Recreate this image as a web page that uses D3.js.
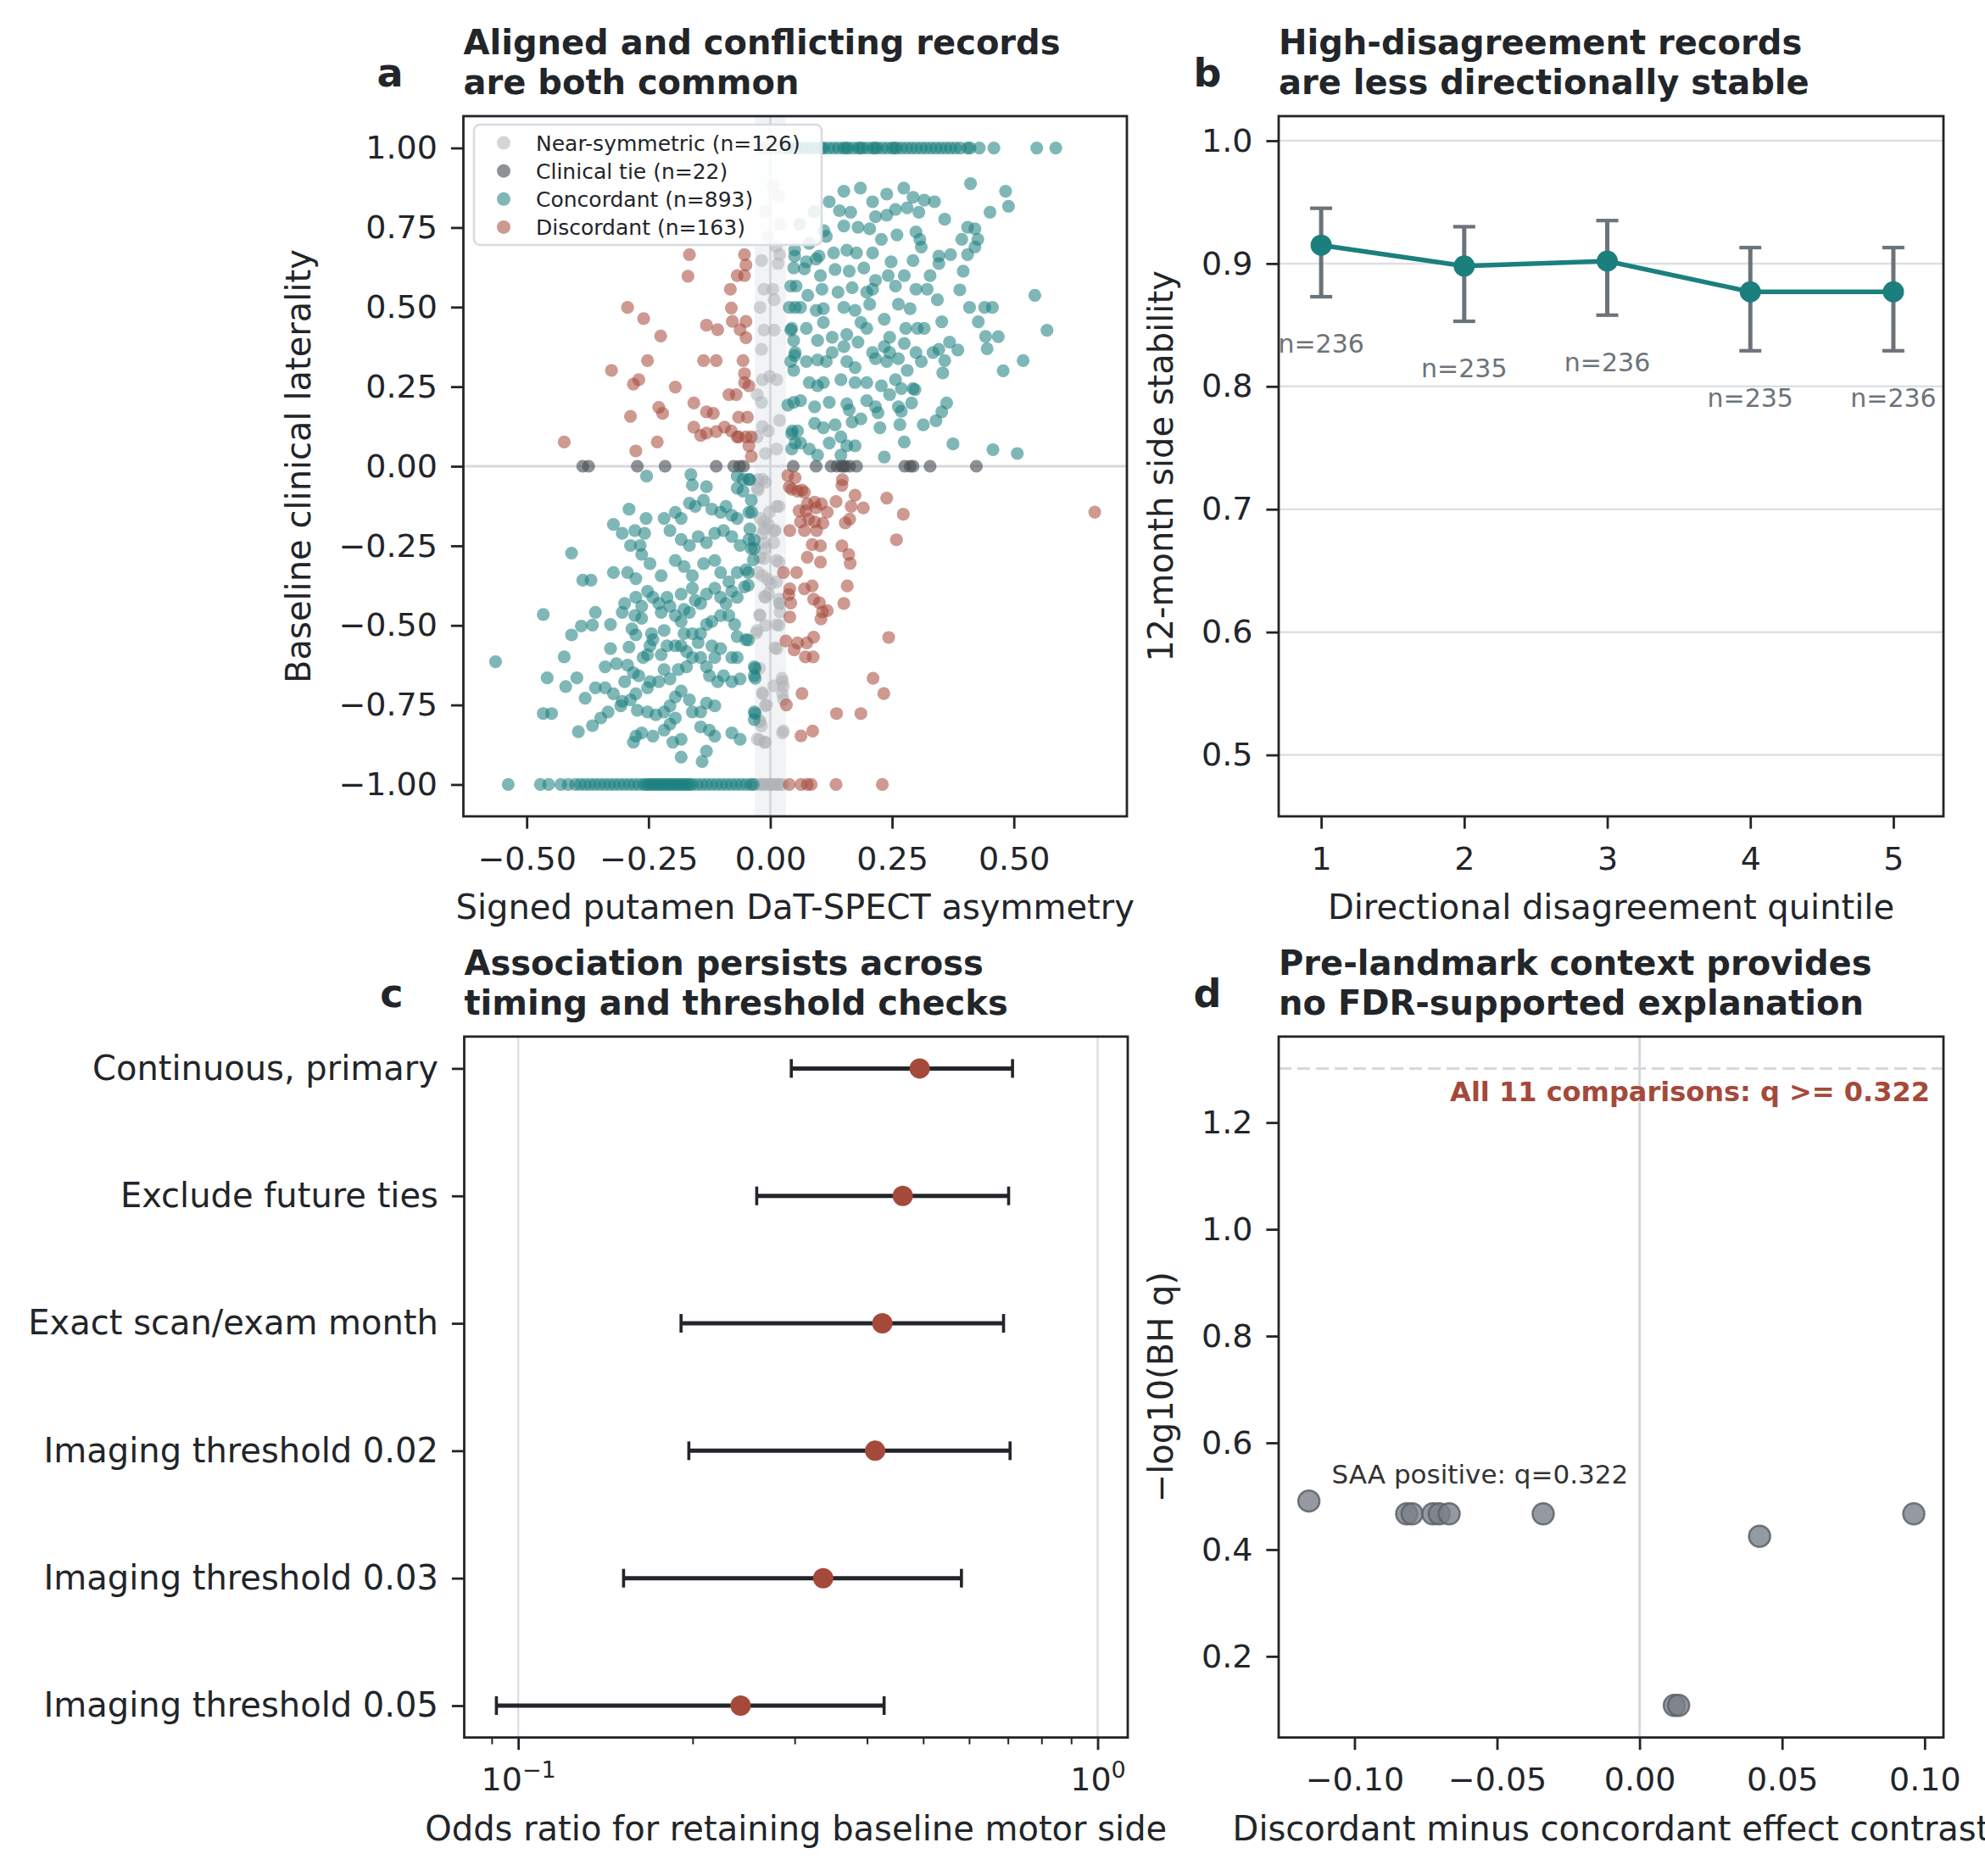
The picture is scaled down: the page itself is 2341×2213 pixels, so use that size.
<!DOCTYPE html>
<html>
<head>
<meta charset="utf-8">
<script src="https://cdn.jsdelivr.net/npm/d3@7"></script>
<style>
  body { margin: 0; background: #fff; }
  svg { display: block; }
</style>
</head>
<body>
<div id="chart"></div>
<script>
// ---- panel a: scatter, values are [asymmetry, laterality] ----
const nearSymmetric = [
  [-0.025, -0.042], [-0.025, -0.075], [0.018, -0.126], [-0.002, -0.144], [-0.013, -0.175], [0.010, -0.202],
  [-0.013, -0.197], [0.007, -0.240], [-0.013, -0.241], [-0.013, -0.290], [0.018, -0.301], [-0.025, -0.334],
  [-0.005, -0.356], [0.001, -0.370], [-0.012, -0.409], [0.018, -0.418], [0.020, -0.431], [0.020, -0.458],
  [-0.022, -0.467], [-0.010, -0.500], [0.018, -0.500], [-0.029, -0.524], [0.010, -0.570], [-0.022, -0.635],
  [0.024, -0.666], [0.007, -0.690], [0.027, -0.692], [-0.016, -0.712], [0.027, -0.732], [-0.008, -0.750],
  [-0.022, -0.803], [-0.018, -0.816], [0.027, -0.832], [-0.022, -0.860], [-0.012, -0.867],
  [-0.018, 0.646], [0.019, 0.665], [0.016, 0.637], [-0.013, 0.556], [0.005, 0.556], [0.008, 0.523],
  [-0.021, 0.499], [-0.013, 0.428], [0.008, 0.428], [-0.018, 0.367], [-0.016, 0.272], [-0.001, 0.282],
  [0.013, 0.272], [-0.027, 0.225], [-0.018, 0.201], [0.019, 0.144], [-0.016, 0.125], [-0.027, 0.092],
  [-0.004, 0.111], [0.013, 0.054], [-0.010, 0.040], [-0.016, -0.041], [-0.027, -0.069], [-0.010, -0.050],
  [0.013, -0.126], [-0.021, -0.164], [-0.004, -0.183], [0.008, -0.202], [-0.016, -0.211], [-0.010, -0.258],
  [0.013, -0.296], [-0.021, -0.287], [-0.016, -0.344], [0.013, -0.363], [-0.004, -0.400],
  [-0.021, -0.469], [-0.027, -0.516], [0.019, -0.431], [0.013, -0.573], [0.025, -0.677], [0.025, -0.715],
  [-0.016, -0.715], [-0.010, -0.753], [-0.021, -0.800], [0.025, -0.838], [-0.027, -0.857], [-0.010, -0.867],
  [0.013, -0.498], [-0.010, -0.412],
  [0.005, 0.88], [0.017, 0.85], [-0.010, 0.80], [0.020, 0.76], [-0.005, 0.72], [0.012, 0.69]
]
const nearSymmetricRowLow = [-0.028, -0.020, -0.016, -0.012, -0.005, 0.001, 0.003, 0.010, 0.016, 0.018, 0.025]
const nearSymmetricRowHigh = [-0.020, -0.010, 0.000, 0.010, 0.020, 0.028]

const clinicalTieX = [-0.385, -0.373, -0.273, -0.216, -0.111, -0.075, -0.063, -0.055, 0.047, 0.094, 0.125,
  0.137, 0.146, 0.150, 0.154, 0.163, 0.177, 0.276, 0.287, 0.293, 0.328, 0.423]

const concordant = [
  // lower-left cloud
  [-0.466, -0.466], [-0.564, -0.614], [-0.458, -0.665], [-0.423, -0.599], [-0.397, -0.665], [-0.420, -0.692],
  [-0.408, -0.530], [-0.388, -0.502], [-0.365, -0.499], [-0.359, -0.459], [-0.380, -0.729], [-0.466, -0.777],
  [-0.449, -0.777], [-0.394, -0.834], [-0.365, -0.815], [-0.348, -0.791], [-0.333, -0.772], [-0.359, -0.696],
  [-0.339, -0.696], [-0.328, -0.573], [-0.328, -0.497], [-0.322, -0.715], [-0.307, -0.753], [-0.304, -0.739],
  [-0.339, -0.630], [-0.316, -0.620], [-0.290, -0.568], [-0.304, -0.459], [-0.284, -0.511], [-0.278, -0.469],
  [-0.276, -0.530], [-0.264, -0.478], [-0.293, -0.625], [-0.281, -0.649], [-0.299, -0.677], [-0.270, -0.658],
  [-0.261, -0.601], [-0.252, -0.592], [-0.244, -0.526], [-0.247, -0.564], [-0.241, -0.545], [-0.218, -0.516],
  [-0.224, -0.459], [-0.229, -0.431], [-0.241, -0.412], [-0.212, -0.412], [-0.195, -0.469], [-0.183, -0.488],
  [-0.166, -0.459], [-0.177, -0.450], [-0.154, -0.421], [-0.131, -0.402], [-0.114, -0.383], [-0.102, -0.412],
  [-0.091, -0.431], [-0.079, -0.393], [-0.068, -0.412], [-0.053, -0.379], [-0.287, -0.734], [-0.273, -0.767],
  [-0.252, -0.772], [-0.235, -0.781], [-0.218, -0.772], [-0.206, -0.753], [-0.195, -0.725], [-0.183, -0.706],
  [-0.166, -0.734], [-0.160, -0.772], [-0.143, -0.772], [-0.131, -0.744], [-0.114, -0.753], [-0.206, -0.668],
  [-0.218, -0.639], [-0.229, -0.677], [-0.247, -0.677], [-0.252, -0.696], [-0.276, -0.715], [-0.189, -0.639],
  [-0.172, -0.630], [-0.160, -0.601], [-0.143, -0.601], [-0.131, -0.630], [-0.125, -0.658], [-0.108, -0.677],
  [-0.096, -0.658], [-0.079, -0.677], [-0.062, -0.668], [-0.079, -0.601], [-0.068, -0.601], [-0.114, -0.601],
  [-0.102, -0.573], [-0.120, -0.564], [-0.148, -0.554], [-0.143, -0.526], [-0.160, -0.526], [-0.177, -0.526],
  [-0.195, -0.564], [-0.212, -0.564], [-0.224, -0.592], [-0.183, -0.564], [-0.172, -0.582], [-0.131, -0.497],
  [-0.120, -0.488], [-0.102, -0.469], [-0.085, -0.469], [-0.073, -0.497], [-0.068, -0.535], [-0.050, -0.545],
  [-0.033, -0.630], [-0.033, -0.658], [-0.033, -0.772], [-0.033, -0.796], [-0.276, -0.848], [-0.281, -0.867],
  [-0.264, -0.838], [-0.241, -0.848], [-0.218, -0.829], [-0.206, -0.810], [-0.200, -0.867], [-0.183, -0.858],
  [-0.195, -0.791], [-0.143, -0.819], [-0.125, -0.829], [-0.114, -0.848], [-0.079, -0.838], [-0.062, -0.858],
  [-0.131, -0.895], [-0.183, -0.914], [-0.140, -0.928],
  [-0.276, -0.412], [-0.252, -0.393], [-0.299, -0.431], [-0.264, -0.440], [-0.183, -0.402], [-0.160, -0.383],
  [-0.143, -0.431], [-0.206, -0.440],
  [-0.254, -0.031], [-0.163, -0.026], [-0.160, -0.059], [-0.131, -0.064], [-0.068, -0.031], [-0.056, -0.041],
  [-0.044, -0.041], [-0.068, -0.069], [-0.056, -0.078], [-0.290, -0.135], [-0.322, -0.183], [-0.304, -0.211],
  [-0.278, -0.202], [-0.255, -0.164], [-0.258, -0.211], [-0.267, -0.249], [-0.287, -0.249], [-0.264, -0.277],
  [-0.218, -0.164], [-0.195, -0.145], [-0.183, -0.164], [-0.166, -0.116], [-0.154, -0.126], [-0.137, -0.107],
  [-0.120, -0.135], [-0.102, -0.145], [-0.091, -0.126], [-0.079, -0.154], [-0.068, -0.164], [-0.044, -0.145],
  [-0.039, -0.107], [-0.206, -0.202], [-0.183, -0.230], [-0.166, -0.249], [-0.148, -0.221], [-0.131, -0.240],
  [-0.114, -0.211], [-0.096, -0.202], [-0.079, -0.221], [-0.062, -0.249], [-0.044, -0.230], [-0.033, -0.258],
  [-0.408, -0.273], [-0.385, -0.358], [-0.368, -0.358], [-0.322, -0.334], [-0.293, -0.334], [-0.276, -0.353],
  [-0.247, -0.306], [-0.224, -0.344], [-0.195, -0.296], [-0.177, -0.315], [-0.160, -0.344], [-0.137, -0.306],
  [-0.114, -0.296], [-0.102, -0.334], [-0.085, -0.363], [-0.068, -0.334], [-0.050, -0.325],
  [-0.042, -0.042], [-0.038, -0.144], [-0.042, -0.197], [-0.033, -0.232], [-0.039, -0.259], [-0.035, -0.294],
  [-0.045, -0.334], [-0.045, -0.374], [-0.045, -0.546], [-0.031, -0.635], [-0.031, -0.666], [-0.031, -0.777],
  // upper-right cloud
  [0.411, 0.888], [0.483, 0.864], [0.489, 0.817], [0.451, 0.798], [0.358, 0.776], [0.405, 0.751],
  [0.420, 0.746], [0.426, 0.713], [0.393, 0.713], [0.420, 0.689], [0.405, 0.665], [0.370, 0.665],
  [0.346, 0.660], [0.396, 0.613], [0.389, 0.554], [0.409, 0.499], [0.440, 0.499], [0.456, 0.499],
  [0.427, 0.454], [0.442, 0.408], [0.468, 0.407], [0.445, 0.369], [0.543, 0.537], [0.568, 0.427],
  [0.519, 0.332], [0.478, 0.300], [0.375, 0.070], [0.457, 0.052], [0.507, 0.040], [0.352, 0.454],
  [0.368, 0.390], [0.385, 0.365], [0.358, 0.332], [0.354, 0.293], [0.362, 0.199], [0.352, 0.171],
  [0.340, 0.143], [0.314, 0.130], [0.297, 0.241], [0.290, 0.199], [0.269, 0.173], [0.266, 0.131],
  [0.275, 0.076], [0.234, 0.029], [0.225, 0.121], [0.151, 0.864], [0.185, 0.874], [0.239, 0.855],
  [0.274, 0.874], [0.293, 0.845], [0.316, 0.836], [0.337, 0.831], [0.121, 0.831], [0.142, 0.803],
  [0.165, 0.798], [0.210, 0.831], [0.216, 0.784], [0.239, 0.789], [0.257, 0.807], [0.281, 0.812],
  [0.305, 0.798], [0.151, 0.755], [0.180, 0.751], [0.204, 0.746], [0.228, 0.713], [0.260, 0.727],
  [0.299, 0.736], [0.307, 0.713], [0.310, 0.689], [0.115, 0.722], [0.130, 0.670], [0.157, 0.679],
  [0.177, 0.670], [0.210, 0.670], [0.248, 0.642], [0.293, 0.646], [0.346, 0.637], [0.050, 0.660],
  [0.074, 0.642], [0.094, 0.651], [0.103, 0.599], [0.133, 0.618], [0.162, 0.613], [0.192, 0.623],
  [0.216, 0.584], [0.242, 0.599], [0.275, 0.599], [0.328, 0.599], [0.053, 0.566], [0.077, 0.537],
  [0.106, 0.556], [0.109, 0.495], [0.139, 0.547], [0.168, 0.561], [0.198, 0.547], [0.210, 0.556],
  [0.257, 0.566], [0.299, 0.556], [0.322, 0.556], [0.343, 0.523], [0.062, 0.499], [0.094, 0.490],
  [0.151, 0.499], [0.174, 0.490], [0.204, 0.509], [0.263, 0.509], [0.287, 0.495], [0.044, 0.433],
  [0.074, 0.433], [0.109, 0.452], [0.127, 0.405], [0.157, 0.414], [0.186, 0.452], [0.198, 0.433],
  [0.234, 0.462], [0.245, 0.405], [0.278, 0.433], [0.302, 0.433], [0.316, 0.433], [0.097, 0.395],
  [0.127, 0.357], [0.151, 0.376], [0.180, 0.390], [0.210, 0.357], [0.234, 0.376], [0.245, 0.357],
  [0.275, 0.386], [0.299, 0.357], [0.334, 0.357], [0.346, 0.367], [0.050, 0.348], [0.074, 0.329],
  [0.097, 0.334], [0.115, 0.329], [0.157, 0.329], [0.174, 0.310], [0.216, 0.338], [0.239, 0.329],
  [0.263, 0.338], [0.281, 0.301], [0.310, 0.329], [0.080, 0.263], [0.097, 0.253], [0.109, 0.263],
  [0.145, 0.272], [0.174, 0.263], [0.198, 0.263], [0.228, 0.253], [0.257, 0.272], [0.269, 0.244],
  [0.293, 0.244], [0.062, 0.206], [0.091, 0.187], [0.121, 0.201], [0.157, 0.196], [0.162, 0.177],
  [0.198, 0.206], [0.216, 0.187], [0.245, 0.225], [0.263, 0.187], [0.091, 0.135], [0.109, 0.121],
  [0.133, 0.130], [0.168, 0.139], [0.186, 0.149], [0.221, 0.168], [0.044, 0.102], [0.062, 0.073],
  [0.080, 0.054], [0.097, 0.035], [0.121, 0.073], [0.145, 0.092], [0.157, 0.064], [0.174, 0.064],
  [0.145, 0.035], [0.044, 0.054], [0.056, 0.111],
  [0.048, 0.623], [0.042, 0.566], [0.039, 0.499], [0.051, 0.499], [0.042, 0.428], [0.048, 0.395],
  [0.051, 0.357], [0.042, 0.329], [0.048, 0.301], [0.036, 0.192], [0.048, 0.201], [0.045, 0.111],
  [0.051, 0.073], [0.050, 0.680], [0.080, 0.700], [0.100, 0.660], [0.070, 0.620], [0.110, 0.740],
  [0.090, 0.800], [0.060, 0.760]
]
const concordantRowLow = [-0.538, -0.472, -0.455, -0.430, -0.415, -0.400, -0.390, -0.380, -0.370, -0.360,
  -0.350, -0.340, -0.330, -0.320, -0.310, -0.300, -0.290, -0.280, -0.270, -0.260, -0.255, -0.250, -0.245,
  -0.240, -0.235, -0.230, -0.225, -0.220, -0.215, -0.210, -0.205, -0.200, -0.195, -0.190, -0.185, -0.180,
  -0.175, -0.170, -0.165, -0.160, -0.150, -0.140, -0.130, -0.120, -0.110, -0.100, -0.090, -0.080, -0.070,
  -0.060, -0.050, -0.040, -0.035]
const concordantRowHigh = [0.035, 0.045, 0.055, 0.065, 0.075, 0.085, 0.095, 0.105, 0.110, 0.120, 0.130,
  0.140, 0.150, 0.155, 0.160, 0.170, 0.180, 0.185, 0.190, 0.200, 0.210, 0.215, 0.220, 0.230, 0.240, 0.250,
  0.255, 0.260, 0.270, 0.280, 0.290, 0.300, 0.310, 0.320, 0.330, 0.340, 0.350, 0.360, 0.370, 0.380, 0.390,
  0.405, 0.410, 0.429, 0.459, 0.547, 0.586]

const discordant = [
  [0.036, -0.029], [0.051, -0.036], [0.039, -0.065], [0.044, -0.072], [0.065, -0.075], [0.070, -0.082],
  [0.056, -0.078], [0.148, -0.042], [0.147, -0.060], [0.174, -0.091], [0.239, -0.100], [0.135, -0.111],
  [0.166, -0.126], [0.191, -0.131], [0.273, -0.151], [0.666, -0.144], [0.076, -0.118], [0.091, -0.113],
  [0.105, -0.118], [0.059, -0.140], [0.073, -0.140], [0.094, -0.131], [0.117, -0.144], [0.079, -0.166],
  [0.091, -0.175], [0.108, -0.179], [0.062, -0.175], [0.163, -0.166], [0.154, -0.178], [0.040, -0.202],
  [0.070, -0.202], [0.095, -0.202], [0.259, -0.231], [0.086, -0.246], [0.103, -0.250], [0.147, -0.250],
  [0.161, -0.277], [0.164, -0.305], [0.076, -0.286], [0.103, -0.301], [0.027, -0.334], [0.054, -0.334],
  [0.158, -0.376], [0.040, -0.385], [0.070, -0.385], [0.086, -0.376], [0.038, -0.403], [0.042, -0.430],
  [0.089, -0.418], [0.101, -0.429], [0.151, -0.431], [0.117, -0.454], [0.107, -0.458], [0.104, -0.480],
  [0.040, -0.474], [0.032, -0.549], [0.056, -0.555], [0.075, -0.555], [0.089, -0.537], [0.049, -0.577],
  [0.072, -0.599], [0.088, -0.599], [0.243, -0.538], [0.211, -0.666], [0.233, -0.714], [0.065, -0.714],
  [0.033, -0.750], [0.136, -0.777], [0.186, -0.777], [0.063, -0.847], [0.087, -0.832],
  [-0.166, 0.665], [-0.169, 0.597], [-0.293, 0.499], [-0.260, 0.464], [-0.225, 0.409], [-0.252, 0.332],
  [-0.326, 0.301], [-0.281, 0.258], [-0.270, 0.272], [-0.195, 0.249], [-0.287, 0.157], [-0.229, 0.185],
  [-0.221, 0.166], [-0.423, 0.076], [-0.276, 0.048], [-0.232, 0.076], [-0.157, 0.199], [-0.131, 0.171],
  [-0.117, 0.166], [-0.157, 0.123], [-0.143, 0.097], [-0.131, 0.104], [-0.111, 0.109], [-0.094, 0.123],
  [-0.080, 0.111], [-0.068, 0.092], [-0.050, 0.092], [-0.039, 0.092], [-0.131, 0.443], [-0.108, 0.429],
  [-0.137, 0.332], [-0.111, 0.332], [-0.082, 0.556], [-0.080, 0.497], [-0.078, 0.455], [-0.085, 0.225],
  [-0.070, 0.225], [-0.065, 0.154], [-0.047, 0.154], [-0.062, 0.429], [-0.050, 0.455], [-0.050, 0.404],
  [-0.056, 0.332], [-0.053, 0.291], [-0.053, 0.263], [-0.044, 0.253], [-0.068, 0.599], [-0.053, 0.599],
  [-0.050, 0.632], [-0.053, 0.665], [-0.065, 0.092], [-0.044, 0.064], [-0.039, 0.031]
]
const discordantRowLow = [0.039, 0.063, 0.076, 0.084, 0.135, 0.230]

const scatterGroups = ['Near-symmetric', 'Clinical tie', 'Concordant', 'Discordant']
const scatterCounts = [126, 22, 893, 163]

// ---- panel b ----
const quintiles = [1, 2, 3, 4, 5]
const stability = [0.915, 0.898, 0.902, 0.877, 0.877]
const stabilityLo = [0.873, 0.853, 0.858, 0.829, 0.829]
const stabilityHi = [0.945, 0.930, 0.935, 0.913, 0.913]
const quintileN = [236, 235, 236, 235, 236]

// ---- panel c ----
const checkLabels = ['Continuous, primary', 'Exclude future ties', 'Exact scan/exam month',
  'Imaging threshold 0.02', 'Imaging threshold 0.03', 'Imaging threshold 0.05']
const oddsRatio = [0.493, 0.461, 0.425, 0.413, 0.336, 0.242]
const oddsLo = [0.296, 0.258, 0.191, 0.197, 0.152, 0.0917]
const oddsHi = [0.713, 0.702, 0.688, 0.706, 0.582, 0.428]

// ---- panel d ----
const contrast = [-0.116, -0.0817, -0.0798, -0.0725, -0.0703, -0.0668, -0.0338, 0.0421, 0.0962, 0.0122, 0.0137]
const negLogQ = [0.491, 0.467, 0.467, 0.467, 0.467, 0.467, 0.467, 0.425, 0.467, 0.108, 0.108]

// ---------------------------------------------------------------
const W = 2341
const H = 2213
const FONT = 'DejaVu Sans, Verdana, sans-serif'
const INK = '#222529'
const TEAL = '#1b7f7e'
const RUST = '#a5493a'
const LIGHT = '#aeb2b7'
const DARK = '#4b4f54'
const GRID = '#dde0e4'
const TICK = 14.6
const TICK_FS = 38

const svg = d3.select('#chart').append('svg')
  .attr('width', W)
  .attr('height', H)
  .style('font-family', FONT)

const boxA = { l: 546.5, r: 1329, t: 137, b: 963 }
const boxB = { l: 1508, r: 2292, t: 137, b: 963 }
const boxC = { l: 547.5, r: 1330, t: 1222.8, b: 2049.6 }
const boxD = { l: 1508, r: 2292, t: 1222.8, b: 2049.6 }

function styleAxis (g, fs) {
  g.attr('font-family', FONT).attr('font-size', fs)
  g.select('.domain').remove()
  g.selectAll('.tick line').attr('stroke', INK).attr('stroke-width', 2.8)
  g.selectAll('.tick text').attr('fill', INK)
}

function frame (box) {
  svg.append('rect')
    .attr('x', box.l).attr('y', box.t)
    .attr('width', box.r - box.l).attr('height', box.b - box.t)
    .attr('fill', 'none').attr('stroke', INK).attr('stroke-width', 2.8)
}

function titles (box, letter, lines, letterX) {
  const base = box.t - 73
  lines.forEach((line, i) => {
    svg.append('text')
      .attr('x', box.l).attr('y', base + i * 47)
      .attr('font-size', 40).attr('font-weight', 'bold').attr('fill', INK)
      .text(line)
  })
  svg.append('text')
    .attr('x', letterX).attr('y', box.t - 35)
    .attr('text-anchor', 'middle')
    .attr('font-size', 46).attr('font-weight', 'bold').attr('fill', INK)
    .text(letter)
}

function xLabel (box, text) {
  svg.append('text')
    .attr('x', (box.l + box.r) / 2).attr('y', box.b + 121)
    .attr('text-anchor', 'middle').attr('font-size', 40).attr('fill', INK)
    .text(text)
}

function yLabel (box, x, text) {
  const cy = (box.t + box.b) / 2
  svg.append('text')
    .attr('transform', `translate(${x}, ${cy}) rotate(-90)`)
    .attr('text-anchor', 'middle').attr('dy', '0.35em')
    .attr('font-size', 40).attr('fill', INK)
    .text(text)
}

function bottomAxis (box, scale, ticks, fmt) {
  const g = svg.append('g')
    .attr('transform', `translate(0, ${box.b})`)
    .call(d3.axisBottom(scale).tickValues(ticks).tickFormat(fmt).tickSize(TICK).tickPadding(21))
  styleAxis(g, TICK_FS)
  return g
}

function leftAxis (box, scale, ticks, fmt, fs) {
  const g = svg.append('g')
    .attr('transform', `translate(${box.l}, 0)`)
    .call(d3.axisLeft(scale).tickValues(ticks).tickFormat(fmt).tickSize(TICK).tickPadding(16))
  styleAxis(g, fs || TICK_FS)
  return g
}

// =============== panel a ===============
{
  const x = d3.scaleLinear().domain([-0.630, 0.732]).range([boxA.l, boxA.r])
  const y = d3.scaleLinear().domain([-1.1, 1.1]).range([boxA.b, boxA.t])
  svg.append('clipPath').attr('id', 'clipA')
    .append('rect').attr('x', boxA.l).attr('y', boxA.t)
    .attr('width', boxA.r - boxA.l).attr('height', boxA.b - boxA.t)
  const g = svg.append('g').attr('clip-path', 'url(#clipA)')

  g.append('rect')
    .attr('x', x(-0.032)).attr('y', boxA.t)
    .attr('width', x(0.032) - x(-0.032)).attr('height', boxA.b - boxA.t)
    .attr('fill', '#e9ecef').attr('opacity', 0.65)
  g.append('line')
    .attr('x1', boxA.l).attr('x2', boxA.r).attr('y1', y(0)).attr('y2', y(0))
    .attr('stroke', '#d5d8dc').attr('stroke-width', 3)
  g.append('line')
    .attr('x1', x(0)).attr('x2', x(0)).attr('y1', boxA.t).attr('y2', boxA.b)
    .attr('stroke', '#d5d8dc').attr('stroke-width', 3)

  const groups = [
    { pts: nearSymmetric.concat(nearSymmetricRowLow.map(v => [v, -1]), nearSymmetricRowHigh.map(v => [v, 1])), color: LIGHT, op: 0.55 },
    { pts: clinicalTieX.map(v => [v, 0]), color: DARK, op: 0.62 },
    { pts: concordant.concat(concordantRowLow.map(v => [v, -1]), concordantRowHigh.map(v => [v, 1])), color: TEAL, op: 0.56 },
    { pts: discordant.concat(discordantRowLow.map(v => [v, -1])), color: RUST, op: 0.56 }
  ]
  groups.forEach(grp => {
    g.append('g').selectAll('circle')
      .data(grp.pts)
      .enter()
      .append('circle')
      .attr('cx', d => x(d[0]))
      .attr('cy', d => y(d[1]))
      .attr('r', 7.6)
      .attr('fill', grp.color)
      .attr('fill-opacity', grp.op)
  })

  // legend
  const lg = svg.append('g')
  lg.append('rect')
    .attr('x', 559).attr('y', 147).attr('width', 410).attr('height', 142).attr('rx', 7)
    .attr('fill', '#fff').attr('fill-opacity', 0.85)
    .attr('stroke', '#d8dce0').attr('stroke-width', 2.5)
  scatterGroups.forEach((name, i) => {
    const cy = 168.6 + i * 33.1
    lg.append('circle').attr('cx', 594).attr('cy', cy).attr('r', 8)
      .attr('fill', groups[i].color).attr('fill-opacity', groups[i].op)
    lg.append('text').attr('x', 632).attr('y', cy).attr('dy', '0.36em')
      .attr('font-size', 25).attr('fill', INK)
      .text(`${name} (n=${scatterCounts[i]})`)
  })

  frame(boxA)
  bottomAxis(boxA, x, [-0.5, -0.25, 0, 0.25, 0.5], d3.format('.2f'))
  leftAxis(boxA, y, [-1, -0.75, -0.5, -0.25, 0, 0.25, 0.5, 0.75, 1], d3.format('.2f'))
  titles(boxA, 'a', ['Aligned and conflicting records', 'are both common'], 460)
  xLabel(boxA, 'Signed putamen DaT-SPECT asymmetry')
  yLabel(boxA, 352, 'Baseline clinical laterality')
}

// =============== panel b ===============
{
  const x = d3.scaleLinear().domain([0.703, 5.35]).range([boxB.l, boxB.r])
  const y = d3.scaleLinear().domain([0.45, 1.02]).range([boxB.b, boxB.t])
  const yt = [0.5, 0.6, 0.7, 0.8, 0.9, 1.0]

  svg.append('g').selectAll('line')
    .data(yt)
    .enter()
    .append('line')
    .attr('x1', boxB.l).attr('x2', boxB.r)
    .attr('y1', d => y(d)).attr('y2', d => y(d))
    .attr('stroke', GRID).attr('stroke-width', 2.5)

  const rows = quintiles.map((q, i) => ({ q, v: stability[i], lo: stabilityLo[i], hi: stabilityHi[i], n: quintileN[i] }))
  const eb = svg.append('g').attr('stroke', '#6c737a')
  eb.selectAll('.bar').data(rows).enter().append('line')
    .attr('x1', d => x(d.q)).attr('x2', d => x(d.q))
    .attr('y1', d => y(d.lo)).attr('y2', d => y(d.hi))
    .attr('stroke-width', 5)
  eb.selectAll('.capLo').data(rows).enter().append('line')
    .attr('x1', d => x(d.q) - 13).attr('x2', d => x(d.q) + 13)
    .attr('y1', d => y(d.lo)).attr('y2', d => y(d.lo))
    .attr('stroke-width', 4.2)
  eb.selectAll('.capHi').data(rows).enter().append('line')
    .attr('x1', d => x(d.q) - 13).attr('x2', d => x(d.q) + 13)
    .attr('y1', d => y(d.hi)).attr('y2', d => y(d.hi))
    .attr('stroke-width', 4.2)

  svg.append('path')
    .datum(rows)
    .attr('d', d3.line().x(d => x(d.q)).y(d => y(d.v)))
    .attr('fill', 'none').attr('stroke', TEAL).attr('stroke-width', 5.5)
  svg.append('g').selectAll('circle')
    .data(rows).enter().append('circle')
    .attr('cx', d => x(d.q)).attr('cy', d => y(d.v)).attr('r', 12.5)
    .attr('fill', TEAL)

  svg.append('g').selectAll('text')
    .data(rows).enter().append('text')
    .attr('x', d => x(d.q)).attr('y', d => y(d.lo - 0.038))
    .attr('dy', '0.36em').attr('text-anchor', 'middle')
    .attr('font-size', 30).attr('fill', '#6c737a')
    .text(d => `n=${d.n}`)

  frame(boxB)
  bottomAxis(boxB, x, quintiles, d3.format('d'))
  leftAxis(boxB, y, yt, d3.format('.1f'))
  titles(boxB, 'b', ['High-disagreement records', 'are less directionally stable'], 1424)
  xLabel(boxB, 'Directional disagreement quintile')
  yLabel(boxB, 1369, '12-month side stability')
}

// =============== panel c ===============
{
  const x = d3.scaleLog().domain([0.0807, 1.127]).range([boxC.l, boxC.r])
  const y = d3.scaleLinear().domain([-0.25, 5.25]).range([boxC.t, boxC.b])
  const idx = checkLabels.map((_, i) => i)

  svg.append('g').selectAll('line')
    .data([0.1, 1])
    .enter().append('line')
    .attr('x1', d => x(d)).attr('x2', d => x(d))
    .attr('y1', boxC.t).attr('y2', boxC.b)
    .attr('stroke', GRID).attr('stroke-width', 2.5)

  const eb = svg.append('g').attr('stroke', INK)
  eb.selectAll('.bar').data(idx).enter().append('line')
    .attr('x1', i => x(oddsLo[i])).attr('x2', i => x(oddsHi[i]))
    .attr('y1', i => y(i)).attr('y2', i => y(i))
    .attr('stroke-width', 5)
  eb.selectAll('.capLo').data(idx).enter().append('line')
    .attr('x1', i => x(oddsLo[i])).attr('x2', i => x(oddsLo[i]))
    .attr('y1', i => y(i) - 11).attr('y2', i => y(i) + 11)
    .attr('stroke-width', 3.6)
  eb.selectAll('.capHi').data(idx).enter().append('line')
    .attr('x1', i => x(oddsHi[i])).attr('x2', i => x(oddsHi[i]))
    .attr('y1', i => y(i) - 11).attr('y2', i => y(i) + 11)
    .attr('stroke-width', 3.6)
  svg.append('g').selectAll('circle')
    .data(idx).enter().append('circle')
    .attr('cx', i => x(oddsRatio[i])).attr('cy', i => y(i)).attr('r', 12)
    .attr('fill', RUST)

  frame(boxC)
  const gx = bottomAxis(boxC, x, [0.1, 1], () => '')
  gx.selectAll('.tick text').each(function (d) {
    const t = d3.select(this)
    t.text('10')
    t.append('tspan').attr('dy', '-0.55em').attr('font-size', 27).text(d === 1 ? '0' : '\u22121')
  })
  const gm = svg.append('g')
    .attr('transform', `translate(0, ${boxC.b})`)
    .call(d3.axisBottom(x).tickValues([0.09, 0.2, 0.3, 0.4, 0.5, 0.6, 0.7, 0.8, 0.9]).tickFormat('').tickSize(8))
  styleAxis(gm, TICK_FS)
  gm.selectAll('.tick line').attr('stroke-width', 2)

  leftAxis(boxC, y, idx, i => checkLabels[i], 40)
  titles(boxC, 'c', ['Association persists across', 'timing and threshold checks'], 462)
  xLabel(boxC, 'Odds ratio for retaining baseline motor side')
}

// =============== panel d ===============
{
  const x = d3.scaleLinear().domain([-0.1266, 0.1066]).range([boxD.l, boxD.r])
  const y = d3.scaleLinear().domain([0.048, 1.361]).range([boxD.b, boxD.t])

  svg.append('line')
    .attr('x1', x(0)).attr('x2', x(0)).attr('y1', boxD.t).attr('y2', boxD.b)
    .attr('stroke', '#d5d8dc').attr('stroke-width', 3)
  svg.append('line')
    .attr('x1', boxD.l).attr('x2', boxD.r)
    .attr('y1', y(-Math.log10(0.05))).attr('y2', y(-Math.log10(0.05)))
    .attr('stroke', '#d5d8dc').attr('stroke-width', 3).attr('stroke-dasharray', '15 7')

  svg.append('g').selectAll('circle')
    .data(contrast.map((c, i) => [c, negLogQ[i]]))
    .enter().append('circle')
    .attr('cx', d => x(d[0])).attr('cy', d => y(d[1])).attr('r', 12.5)
    .attr('fill', '#7a8088').attr('fill-opacity', 0.8)
    .attr('stroke', '#5c6168').attr('stroke-width', 2.5).attr('stroke-opacity', 0.85)

  svg.append('text')
    .attr('x', x(-0.108)).attr('y', y(0.542))
    .attr('dy', '0.36em').attr('font-size', 31).attr('fill', '#333')
    .text('SAA positive: q=0.322')
  svg.append('text')
    .attr('x', boxD.r - 16).attr('y', y(1.259))
    .attr('dy', '0.36em').attr('text-anchor', 'end')
    .attr('font-size', 32).attr('font-weight', 'bold').attr('fill', RUST)
    .text('All 11 comparisons: q >= 0.322')

  frame(boxD)
  bottomAxis(boxD, x, [-0.1, -0.05, 0, 0.05, 0.1], d3.format('.2f'))
  leftAxis(boxD, y, [0.2, 0.4, 0.6, 0.8, 1.0, 1.2], d3.format('.1f'))
  titles(boxD, 'd', ['Pre-landmark context provides', 'no FDR-supported explanation'], 1424)
  xLabel(boxD, 'Discordant minus concordant effect contrast')
  yLabel(boxD, 1369, '\u2212log10(BH q)')
}
</script>
</body>
</html>
